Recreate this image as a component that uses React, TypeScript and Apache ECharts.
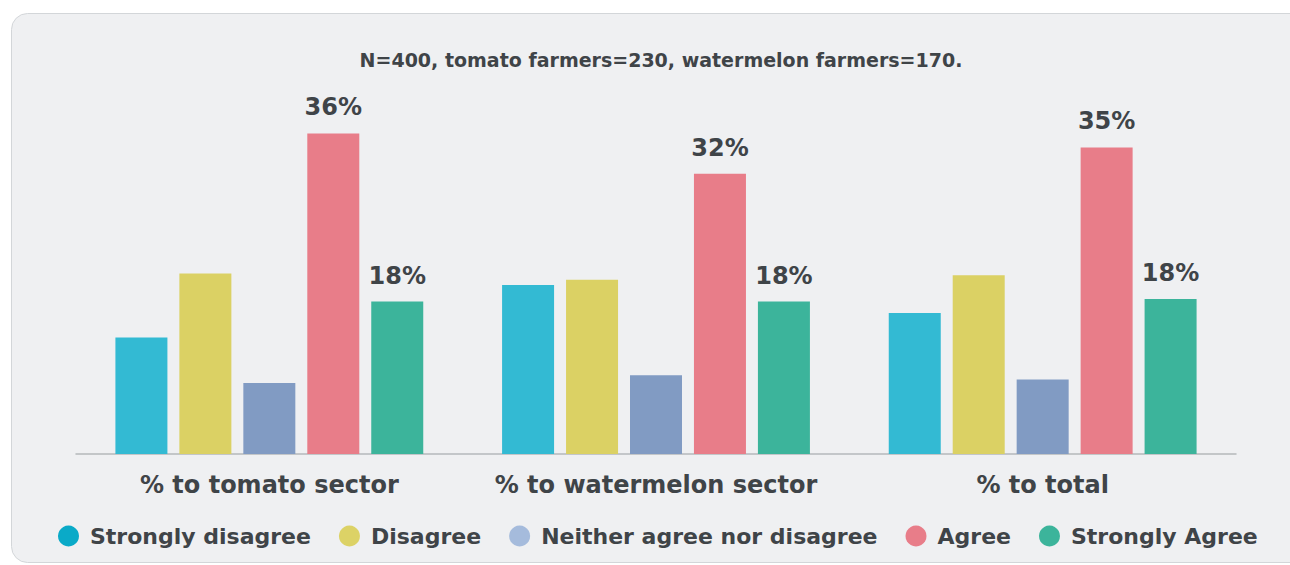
import React, { useEffect, useRef } from "react";
import * as echarts from "echarts";

const categories = ["% to tomato sector", "% to watermelon sector", "% to total"];
const seriesNames = ["Strongly disagree", "Disagree", "Neither agree nor disagree", "Agree", "Strongly Agree"];
const stronglyDisagree = [13.3, 19.3, 16.1];
const disagree = [20.6, 19.9, 20.4];
const neither = [8.1, 9.0, 8.5];
const agree = [36.6, 32.0, 35.0];
const stronglyAgree = [17.4, 17.4, 17.7];
const agreeLabels = ["36%", "32%", "35%"];
const stronglyAgreeLabels = ["18%", "18%", "18%"];
const titleText = "N=400, tomato farmers=230, watermelon farmers=170.";

const barColors = ["#33bad3", "#dbd164", "#819bc3", "#e87d89", "#3cb49b"];
const legendColors = ["#0aaac8", "#dcd266", "#a5bbdc", "#e87d89", "#3cb49b"];
const TEXT = "#3f4448";
const FONT = "DejaVu Sans";

export default function App() {
  const ref = useRef<HTMLDivElement>(null);
  useEffect(() => {
    if (!ref.current) return;
    const chart = echarts.init(ref.current, undefined, { renderer: "svg" });
    const values = [stronglyDisagree, disagree, neither, agree, stronglyAgree];
    const labelSets: (string[] | null)[] = [null, null, null, agreeLabels, stronglyAgreeLabels];
    chart.setOption({
      animation: false,
      textStyle: { fontFamily: FONT },
      graphic: [
        {
          type: "rect",
          z: -10,
          shape: { x: 11.5, y: 13.5, width: 1300, height: 549, r: 16 },
          style: { fill: "#eff0f2", stroke: "#d3d6d9", lineWidth: 1 },
        },
      ],
      title: {
        text: titleText,
        left: 656,
        textAlign: "center",
        top: 45,
        textStyle: { fontFamily: FONT, fontWeight: "bold", fontSize: 19, color: TEXT },
      },
      legend: {
        bottom: 13,
        left: 53,
        padding: 5,
        icon: "circle",
        itemWidth: 21,
        itemHeight: 21,
        itemGap: 28,
        textStyle: { fontFamily: FONT, fontWeight: "bold", fontSize: 22, color: TEXT, padding: [0, 0, 0, 6] },
        data: seriesNames.map((n, i) => ({ name: n, itemStyle: { color: legendColors[i] } })),
      },
      grid: { left: 76, right: 54, bottom: 111, top: 103.6, containLabel: false },
      xAxis: {
        type: "category",
        data: categories,
        axisLine: { lineStyle: { color: "#b5b8bb", width: 1.5 } },
        axisTick: { show: false },
        axisLabel: { interval: 0, fontFamily: FONT, fontWeight: "bold", fontSize: 24, color: TEXT, margin: 19 },
      },
      yAxis: { type: "value", min: 0, max: 40, show: false, splitLine: { show: false } },
      series: seriesNames.map((name, i) => ({
        name,
        type: "bar",
        data: values[i],
        barWidth: 52,
        barGap: "23%",
        itemStyle: { color: barColors[i] },
        label: labelSets[i]
          ? {
              show: true,
              position: "top",
              distance: 14,
              fontFamily: FONT,
              fontWeight: "bold",
              fontSize: 24,
              color: TEXT,
              formatter: (p: any) => (labelSets[i] as string[])[p.dataIndex],
            }
          : { show: false },
      })),
    });
    return () => chart.dispose();
  }, []);
  return (
    <div
      ref={ref}
      style={{ position: "absolute", left: 0, top: 0, width: 1290, height: 565, background: "#ffffff" }}
    />
  );
}
